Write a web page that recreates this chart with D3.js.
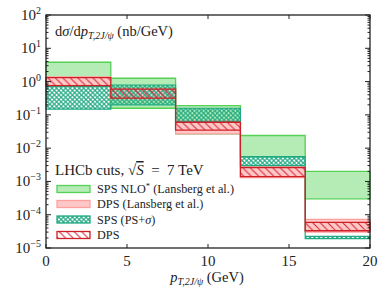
<!DOCTYPE html>
<html>
<head>
<meta charset="utf-8">
<script src="https://cdn.jsdelivr.net/npm/d3@7"></script>
<style>
  body { margin: 0; background: #fff; }
  text { font-family: "Liberation Serif", "DejaVu Serif", serif; fill: #222; }
</style>
</head>
<body>
<div id="chart"></div>
<script>
// bin edges in pT (GeV)
var binEdges = [0, 4, 8, 12, 16, 20];

// SPS NLO* (Lansberg et al.)
var nloLo = [0.74, 0.158, 0.027, 0.0055, 0.0003];
var nloHi = [3.8, 1.26, 0.19, 0.024, 0.002];
// DPS (Lansberg et al.)
var dpsLansLo = [0.72, 0.30, 0.027, 0.0013, 3.0e-5];
var dpsLansHi = [1.38, 0.63, 0.066, 0.0028, 7.2e-5];
// SPS (PS+sigma)
var spsLo = [0.148, 0.2, 0.063, 0.0030, 1.9e-5];
var spsHi = [0.71, 0.79, 0.158, 0.0056, 2.25e-5];
// DPS
var dpsLo = [0.76, 0.32, 0.035, 0.0014, 3.3e-5];
var dpsHi = [1.31, 0.59, 0.060, 0.0026, 5.9e-5];

var xTicks = [0, 5, 10, 15, 20];
var yTicks = [1e-5, 1e-4, 1e-3, 1e-2, 1e-1, 1, 10, 100];
var yExp = ["\u22125", "\u22124", "\u22123", "\u22122", "\u22121", "0", "1", "2"];

var width = 390, height = 293;
var margin = {top: 15, right: 20, bottom: 45, left: 46};

var x = d3.scaleLinear().domain([0, 20]).range([margin.left, width - margin.right]);
var y = d3.scaleLog().domain([1e-5, 1e2]).range([height - margin.bottom, margin.top]);

var svg = d3.select("#chart").append("svg")
    .attr("width", width)
    .attr("height", height);

var defs = svg.append("defs");

// crosshatch for SPS (PS+sigma)
var cross = defs.append("pattern")
    .attr("id", "cross")
    .attr("patternUnits", "userSpaceOnUse")
    .attr("width", 3.2).attr("height", 3.2)
    .attr("patternTransform", "rotate(45)");
cross.append("path")
    .attr("d", "M0,0H3.2M0,3.2H3.2M0,0V3.2M3.2,0V3.2")
    .attr("stroke", "#1fa982")
    .attr("stroke-width", 1.1);

// diagonal hatch for DPS
var hatch = defs.append("pattern")
    .attr("id", "hatch")
    .attr("patternUnits", "userSpaceOnUse")
    .attr("width", 7.5).attr("height", 7.5);
hatch.append("path")
    .attr("d", "M0,0L7.5,7.5M-1,6.5L1,8.5M6.5,-1L8.5,1")
    .attr("stroke", "#d3202a")
    .attr("stroke-width", 1);

function steps(lo, hi) {
  var pts = lo.map(function(d, i) { return {x: binEdges[i], lo: d, hi: hi[i]}; });
  pts.push({x: binEdges[binEdges.length - 1], lo: lo[lo.length - 1], hi: hi[hi.length - 1]});
  return pts;
}

var area = d3.area()
    .curve(d3.curveStepAfter)
    .x(function(d) { return x(d.x); })
    .y0(function(d) { return y(d.lo); })
    .y1(function(d) { return y(d.hi); });

var bands = [
  {lo: nloLo, hi: nloHi, fill: "#b5ebb5", stroke: "#55d155", sw: 1.3},
  {lo: dpsLansLo, hi: dpsLansHi, fill: "#ffc8c8", stroke: "#ffa0a0", sw: 1.2},
  {lo: spsLo, hi: spsHi, fill: "url(#cross)", stroke: "#1fa982", sw: 1.2},
  {lo: dpsLo, hi: dpsHi, fill: "url(#hatch)", stroke: "#cf1f26", sw: 1.3}
];

var plot = svg.append("g");
bands.forEach(function(b) {
  plot.append("path")
      .datum(steps(b.lo, b.hi))
      .attr("d", area)
      .attr("fill", b.fill)
      .attr("stroke", b.stroke)
      .attr("stroke-width", b.sw);
});

// frame
var x0 = x(0), x1 = x(20), y0 = y(1e-5), y1 = y(1e2);
svg.append("rect")
    .attr("x", x0).attr("y", y1)
    .attr("width", x1 - x0).attr("height", y0 - y1)
    .attr("fill", "none").attr("stroke", "#222").attr("stroke-width", 1.3);

// x ticks (inward, top and bottom)
var ticks = svg.append("g").attr("stroke", "#222").attr("stroke-width", 1);
xTicks.forEach(function(t) {
  ticks.append("line").attr("x1", x(t)).attr("x2", x(t)).attr("y1", y0).attr("y2", y0 - 4);
  ticks.append("line").attr("x1", x(t)).attr("x2", x(t)).attr("y1", y1).attr("y2", y1 + 4);
});
svg.selectAll(".xlab").data(xTicks).enter().append("text")
    .attr("x", function(d) { return x(d); })
    .attr("y", y0 + 18)
    .attr("text-anchor", "middle")
    .attr("font-size", 15)
    .text(function(d) { return d; });

// y ticks with log minors
yTicks.forEach(function(t, i) {
  ticks.append("line").attr("x1", x0).attr("x2", x0 + 5).attr("y1", y(t)).attr("y2", y(t));
  ticks.append("line").attr("x1", x1).attr("x2", x1 - 5).attr("y1", y(t)).attr("y2", y(t));
  if (i < yTicks.length - 1) {
    for (var m = 2; m < 10; m++) {
      var v = t * m;
      ticks.append("line").attr("x1", x0).attr("x2", x0 + 2.5).attr("y1", y(v)).attr("y2", y(v));
      ticks.append("line").attr("x1", x1).attr("x2", x1 - 2.5).attr("y1", y(v)).attr("y2", y(v));
    }
  }
});
yTicks.forEach(function(t, i) {
  var tx = svg.append("text")
      .attr("x", 41)
      .attr("y", y(t) + 5)
      .attr("text-anchor", "end")
      .attr("font-size", 15);
  tx.append("tspan").text("10");
  tx.append("tspan").attr("font-size", 10).attr("dy", -6).text(yExp[i]);
});

// y label inside plot
var yl = svg.append("text").attr("x", 55).attr("y", 36).attr("font-size", 14.5);
yl.append("tspan").text("d");
yl.append("tspan").attr("font-style", "italic").text("\u03c3");
yl.append("tspan").text("/d");
yl.append("tspan").attr("font-style", "italic").text("p");
yl.append("tspan").attr("font-style", "italic").attr("font-size", 10).attr("dy", 3).text("T,2J/\u03c8");
yl.append("tspan").attr("dy", -3).text(" (nb/GeV)");

// x label
var xl = svg.append("text").attr("x", 207).attr("y", 282).attr("text-anchor", "middle").attr("font-size", 14.5);
xl.append("tspan").attr("font-style", "italic").text("p");
xl.append("tspan").attr("font-style", "italic").attr("font-size", 10).attr("dy", 3).text("T,2J/\u03c8");
xl.append("tspan").attr("dy", -3).text(" (GeV)");

// LHCb cuts text
var lt = svg.append("text").attr("x", 55).attr("y", 175).attr("font-size", 15);
lt.append("tspan").text("LHCb cuts, \u221a");
lt.append("tspan").attr("font-style", "italic").attr("text-decoration", "overline").text("S");
lt.append("tspan").text("\u2002=\u20027 TeV");

// legend
var legend = [
  {label: "SPS NLO", sup: "*", rest: " (Lansberg et al.)", fill: "#b5ebb5", stroke: "#55d155"},
  {label: "DPS (Lansberg et al.)", fill: "#ffc8c8", stroke: "#ffa0a0"},
  {label: "SPS (PS+", sig: true, fill: "url(#cross)", stroke: "#1fa982"},
  {label: "DPS", fill: "url(#hatch)", stroke: "#cf1f26"}
];
var ly = [189, 204, 219.5, 235];
legend.forEach(function(d, i) {
  svg.append("rect")
      .attr("x", 57).attr("y", ly[i] - 3.5)
      .attr("width", 33).attr("height", 7)
      .attr("fill", d.fill).attr("stroke", d.stroke).attr("stroke-width", 1.3);
  var t = svg.append("text").attr("x", 97).attr("y", ly[i] + 4)
      .attr("font-size", 12.2).attr("letter-spacing", 0.05);
  t.append("tspan").text(d.label);
  if (d.sup) {
    t.append("tspan").attr("font-size", 8.5).attr("dy", -4.5).text(d.sup);
    t.append("tspan").attr("dy", 4.5).text(d.rest);
  }
  if (d.sig) {
    t.append("tspan").attr("font-style", "italic").text("\u03c3");
    t.append("tspan").text(")");
  }
});
</script>
</body>
</html>
